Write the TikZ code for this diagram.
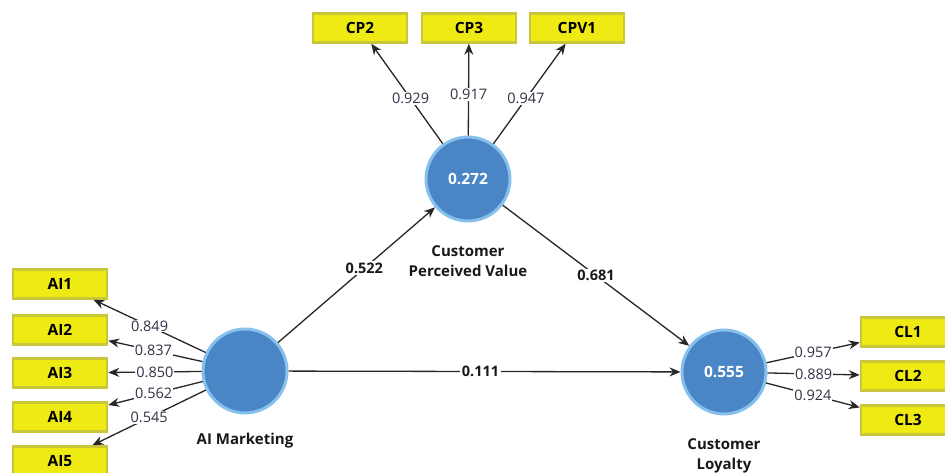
\documentclass[tikz,border=0pt]{standalone}
\usepackage{fontspec}
\setmainfont{Open Sans}
\usetikzlibrary{arrows.meta}
\definecolor{boxfill}{HTML}{EFEA14}
\definecolor{boxline}{HTML}{C8C63A}
\definecolor{lvfill}{HTML}{4A86C6}
\definecolor{lvring}{HTML}{86C0EC}
\definecolor{edgecol}{HTML}{262626}
\definecolor{numcol}{HTML}{352F44}
\tikzset{
  ind/.style={draw=boxline, fill=boxfill, line width=2.5pt, minimum width=94pt, minimum height=29pt,
    inner sep=0pt, font=\fontsize{15.5}{16}\selectfont\bfseries, text=black},
  lv/.style={circle, draw=lvring, fill=lvfill, line width=3pt, minimum size=84pt, inner sep=0pt,
    font=\fontsize{15.5}{16}\selectfont\bfseries, text=white},
  lvname/.style={font=\fontsize{15}{20}\selectfont\bfseries, align=center, text=black!90},
  load/.style={draw=edgecol, line width=1.3pt, -{Stealth[length=11pt,width=9pt]}},
  lbl/.style={fill=white, inner sep=1pt, font=\fontsize{14.5}{14.5}\selectfont, text=numcol},
  blbl/.style={fill=white, inner sep=1.5pt, font=\fontsize{14.5}{15}\selectfont\bfseries, text=black!90},
}
\begin{document}
\begin{tikzpicture}[x=1pt,y=-1pt]
\useasboundingbox (0,0) rectangle (945,473);
\clip (0,0) rectangle (945,473);
% latent variables
\node[lv] (aim) at (245,371) {};
\node[lv] (cpv) at (468,179) {0.272};
\node[lv] (cl) at (724,372) {0.555};
\node[lvname] (aimname) at (245,441) {AI Marketing};
\node[lvname] (cpvname) at (468,261) {Customer\\Perceived Value};
\node[lvname] (clname) at (724,456) {Customer\\Loyalty};
% indicators
\node[ind] (ai1) at (60,284) {AI1};
\node[ind] (ai2) at (60,330) {AI2};
\node[ind] (ai3) at (60,373) {AI3};
\node[ind] (ai4) at (60,417) {AI4};
\node[ind] (ai5) at (60,461) {AI5};
\node[ind] (cp2) at (360,28) {CP2};
\node[ind] (cp3) at (469,28) {CP3};
\node[ind] (cpv1) at (577,28) {CPV1};
\node[ind] (cl1) at (908,332) {CL1};
\node[ind] (cl2) at (908,376) {CL2};
\node[ind] (cl3) at (908,420) {CL3};
% loadings
\draw[load] (aim) -- (ai1) node[lbl, pos=0.5] {0.849};
\draw[load] (aim) -- (ai2) node[lbl, pos=0.52] {0.837};
\draw[load] (aim) -- (ai3) node[lbl, pos=0.5] {0.850};
\draw[load] (aim) -- (ai4) node[lbl, pos=0.52] {0.562};
\draw[load] (aim) -- (ai5) node[lbl, pos=0.5] {0.545};
\draw[load] (cpv) -- (cp2) node[lbl, pos=0.45] {0.929};
\draw[load] (cpv) -- (cp3) node[lbl, pos=0.45] {0.917};
\draw[load] (cpv) -- (cpv1) node[lbl, pos=0.45] {0.947};
\draw[load] (cl) -- (cl1) node[lbl, pos=0.5] {0.957};
\draw[load] (cl) -- (cl2) node[lbl, pos=0.5] {0.889};
\draw[load] (cl) -- (cl3) node[lbl, pos=0.5] {0.924};
% paths
\draw[load] (aim) -- (cpv) node[blbl, pos=0.55] {0.522};
\draw[load] (cpv) -- (cl) node[blbl, pos=0.5] {0.681};
\draw[load] (aim) -- (cl) node[blbl, pos=0.49] {0.111};
\end{tikzpicture}
\end{document}
